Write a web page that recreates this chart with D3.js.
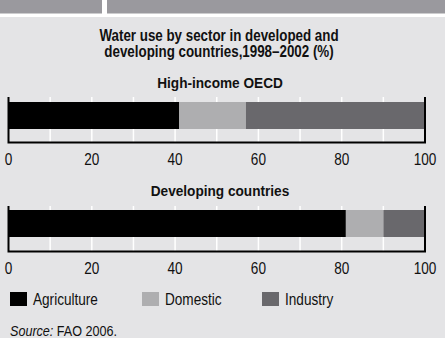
<!DOCTYPE html>
<html>
<head>
<meta charset="utf-8">
<script src="https://cdn.jsdelivr.net/npm/d3@7"></script>
<style>
  html, body { margin: 0; padding: 0; background: #e4e4e6; }
  svg { display: block; }
  text { font-family: "Liberation Sans", Arial, sans-serif; fill: #111; }
</style>
</head>
<body>
<svg id="chart" width="445" height="338"></svg>
<script>
// Water use by sector, 1998–2002 (%)
const regions = ["High-income OECD", "Developing countries"];
const sectors = ["Agriculture", "Domestic", "Industry"];
const agriculture = [41, 81];
const domestic = [16, 9];
const industry = [43, 10];
const tickValues = [0, 20, 40, 60, 80, 100];
const gridValues = [10, 20, 30, 40, 50, 60, 70, 80, 90];
const sectorColors = ["#000000", "#aeaeb0", "#69686c"];

const svg = d3.select("#chart");
const W = 445;
const SQUEEZE = 0.85; // condensed lettering

// place a condensed text at (x, y)
function label(parent, x, y, str, opts = {}) {
  const sx = opts.squeeze || SQUEEZE;
  const t = parent.append("text")
    .attr("transform", `translate(${x},${y}) scale(${sx},1)`)
    .attr("text-anchor", opts.anchor || "start")
    .style("font-size", (opts.size || 16) + "px")
    .style("font-weight", opts.bold ? "bold" : "normal");
  if (str !== null) t.text(str);
  return t;
}

// page background and header strip
svg.append("rect").attr("width", W).attr("height", 338).attr("fill", "#e4e4e6");
svg.append("rect").attr("x", 0).attr("y", 0).attr("width", W).attr("height", 17).attr("fill", "#ffffff");
svg.append("rect").attr("x", 0).attr("y", 0).attr("width", 102).attr("height", 13.5).attr("fill", "#9a999e");
svg.append("rect").attr("x", 107).attr("y", 0).attr("width", W - 107).attr("height", 13.5).attr("fill", "#9a999e");

// title
label(svg, 219, 41, "Water use by sector in developed and", { anchor: "middle", size: 16.5, bold: true, squeeze: 0.81 });
label(svg, 219, 56.5, "developing countries,1998\u20132002 (%)", { anchor: "middle", size: 16.5, bold: true, squeeze: 0.81 });

const x = d3.scaleLinear().domain([0, 100]).range([8.5, 425]);
const color = d3.scaleOrdinal().domain(sectors).range(sectorColors);

const table = regions.map((r, i) => ({
  region: r, Agriculture: agriculture[i], Domestic: domestic[i], Industry: industry[i]
}));
const stacked = d3.stack().keys(sectors)(table);

// vertical layout of each panel
const panels = [
  { titleY: 88.3, top: 97, barTop: 102, barBottom: 129, bottom: 142.5, labelY: 165 },
  { titleY: 195.5, top: 206, barTop: 210, barBottom: 237, bottom: 251.5, labelY: 274 }
];

panels.forEach((p, i) => {
  const g = svg.append("g");

  label(g, 220, p.titleY, regions[i], { anchor: "middle", size: 15.5, bold: true, squeeze: 0.88 });

  // white gridlines
  g.selectAll("line.grid").data(gridValues).join("line")
    .attr("class", "grid")
    .attr("x1", d => x(d)).attr("x2", d => x(d))
    .attr("y1", p.top).attr("y2", p.bottom)
    .attr("stroke", "#ffffff").attr("stroke-width", 1.5);

  // stacked bar segments
  g.selectAll("rect.seg").data(stacked).join("rect")
    .attr("class", "seg")
    .attr("x", s => x(s[i][0]))
    .attr("width", s => x(s[i][1]) - x(s[i][0]))
    .attr("y", p.barTop).attr("height", p.barBottom - p.barTop)
    .attr("fill", s => color(s.key));

  // frame: side rules and baseline
  g.append("path")
    .attr("d", `M${x(0)},${p.top}V${p.bottom}H${x(100)}V${p.top}`)
    .attr("fill", "none").attr("stroke", "#000").attr("stroke-width", 2);

  // tick labels
  const axis = d3.axisBottom(x).tickValues(tickValues).tickSize(0).tickPadding(0);
  const ag = g.append("g").attr("transform", `translate(0,${p.labelY})`).call(axis);
  ag.select(".domain").remove();
  ag.selectAll(".tick").attr("transform", d => `translate(${x(d)},0) scale(${SQUEEZE},1)`);
  ag.selectAll("text")
    .attr("y", 0).attr("dy", null)
    .style("font-family", "'Liberation Sans', Arial, sans-serif")
    .style("font-size", "16px").attr("fill", "#111");
});

// legend
const legendX = [10, 142, 262];
const lg = svg.append("g").selectAll("g").data(sectors).join("g")
  .attr("transform", (d, i) => `translate(${legendX[i]},292)`);
lg.append("rect").attr("width", 17).attr("height", 14).attr("fill", d => color(d));
lg.each(function (d) { label(d3.select(this), 23, 12.5, d, { size: 16 }); });

// source note
const src = label(svg, 10, 335.7, null, { size: 14, squeeze: 0.9 });
src.append("tspan").style("font-style", "italic").text("Source:");
src.append("tspan").text(" FAO 2006.");
</script>
</body>
</html>
